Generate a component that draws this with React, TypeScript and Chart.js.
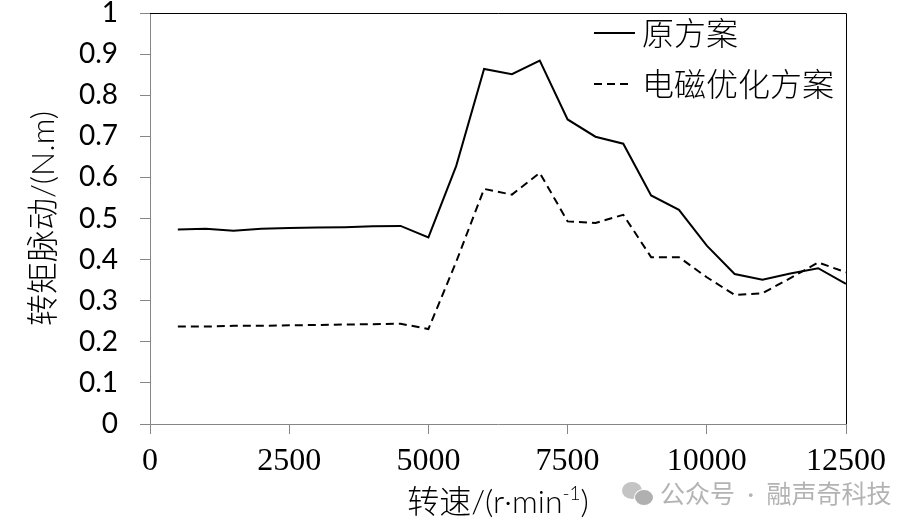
import { useEffect, useRef } from 'react';
import { Chart, registerables } from 'chart.js';

Chart.register(...registerables);

// speed (r/min) and torque ripple (N.m)
const speeds = [
  500, 1000, 1500, 2000, 2500, 3000, 3500, 4000, 4500, 5000, 5500, 6000, 6500,
  7000, 7500, 8000, 8500, 9000, 9500, 10000, 10500, 11000, 11500, 12000, 12500,
];
const originalRipple = [
  0.473, 0.475, 0.47, 0.475, 0.477, 0.478, 0.479, 0.481, 0.482, 0.454, 0.628, 0.864, 0.851,
  0.884, 0.741, 0.699, 0.682, 0.556, 0.521, 0.434, 0.365, 0.351, 0.366, 0.379, 0.341,
];
const optimizedRipple = [
  0.237, 0.237, 0.239, 0.239, 0.24, 0.241, 0.242, 0.243, 0.244, 0.231, 0.395, 0.572, 0.558,
  0.611, 0.493, 0.489, 0.509, 0.406, 0.406, 0.357, 0.314, 0.318, 0.355, 0.393, 0.369,
];
const seriesNames = ['原方案', '电磁优化方案'];
const xTickValues = [0, 2500, 5000, 7500, 10000, 12500];
const yTickValues = [0, 0.1, 0.2, 0.3, 0.4, 0.5, 0.6, 0.7, 0.8, 0.9, 1];
const yTitle = '转矩脉动/(N.m)';
const xTitleParts = ['转速/(r·min', '-1', ')'];
const watermark = '公众号 · 融声奇科技';

const CJK = 'Lato, "Noto Sans CJK SC", sans-serif';
const GREY = '#868686';

const framePlugin = {
  id: 'frameLegend',
  afterDraw(chart: Chart) {
    const { ctx, chartArea: a } = chart;
    ctx.save();
    // top and right frame
    ctx.strokeStyle = '#000';
    ctx.lineWidth = 1;
    ctx.beginPath();
    ctx.moveTo(a.left, a.top + 0.5);
    ctx.lineTo(a.right + 0.5, a.top + 0.5);
    ctx.lineTo(a.right + 0.5, a.bottom);
    ctx.stroke();

    // legend inside the plot
    const rows = [a.top + 20, a.top + 71];
    chart.data.datasets.forEach((ds: any, i: number) => {
      const y = rows[i];
      ctx.strokeStyle = '#000';
      ctx.lineWidth = 2;
      ctx.setLineDash(ds.borderDash || []);
      ctx.beginPath();
      ctx.moveTo(a.right - 252, y);
      ctx.lineTo(a.right - (ds.borderDash ? 214 : 211), y);
      ctx.stroke();
      ctx.setLineDash([]);
      ctx.fillStyle = '#000';
      ctx.font = `300 32px ${CJK}`;
      ctx.textBaseline = 'middle';
      ctx.textAlign = 'left';
      ctx.fillText(ds.label, a.right - 204, y + 2);
    });

    // x axis title with superscript
    const big = `300 32px ${CJK}`;
    const small = `300 19px ${CJK}`;
    ctx.font = big;
    const w0 = ctx.measureText(xTitleParts[0]).width;
    const w2 = ctx.measureText(xTitleParts[2]).width;
    ctx.font = small;
    const w1 = ctx.measureText(xTitleParts[1]).width;
    let x = (a.left + a.right) / 2 - (w0 + w1 + w2) / 2;
    const y = 503;
    ctx.textBaseline = 'middle';
    ctx.font = big;
    ctx.fillText(xTitleParts[0], x, y);
    x += w0;
    ctx.font = small;
    ctx.fillText(xTitleParts[1], x, y - 9);
    x += w1;
    ctx.font = big;
    ctx.fillText(xTitleParts[2], x, y);
    ctx.restore();
  },
};

export default function App() {
  const canvasRef = useRef<HTMLCanvasElement | null>(null);

  useEffect(() => {
    if (!canvasRef.current) return;

    const chart = new Chart(canvasRef.current, {
      type: 'line',
      data: {
        datasets: [
          {
            label: seriesNames[0],
            data: speeds.map((s, i) => ({ x: s, y: originalRipple[i] })),
            borderColor: '#000',
            borderWidth: 2,
            pointRadius: 0,
            tension: 0,
          },
          {
            label: seriesNames[1],
            data: speeds.map((s, i) => ({ x: s, y: optimizedRipple[i] })),
            borderColor: '#000',
            borderWidth: 2,
            borderDash: [8, 5],
            pointRadius: 0,
            tension: 0,
          },
        ],
      },
      options: {
        responsive: false,
        animation: false,
        layout: { padding: { top: 13, right: 66, bottom: 0, left: 0 } },
        plugins: { legend: { display: false }, tooltip: { enabled: false } },
        scales: {
          x: {
            type: 'linear',
            min: 0,
            max: 12500,
            afterBuildTicks: (scale: any) => {
              scale.ticks = xTickValues.map((v) => ({ value: v }));
            },
            afterFit: (scale: any) => {
              scale.height = 106;
              scale.paddingLeft = 0;
              scale.paddingRight = 0;
            },
            ticks: {
              color: '#000',
              maxRotation: 0,
              padding: 12,
              font: { family: '"Liberation Serif", serif', size: 32, lineHeight: 1 },
              callback: (v: any) => String(v),
            },
            grid: { drawOnChartArea: false, tickLength: 10, color: GREY },
            border: { color: GREY, width: 1 },
          },
          y: {
            min: 0,
            max: 1,
            afterBuildTicks: (scale: any) => {
              scale.ticks = yTickValues.map((v) => ({ value: v }));
            },
            afterFit: (scale: any) => {
              scale.width = 150;
              scale.paddingTop = 0;
              scale.paddingBottom = 0;
            },
            ticks: {
              color: '#000',
              padding: 22,
              font: { family: 'Lato, sans-serif', size: 28, lineHeight: 1 },
              callback: (v: any) => String(Math.round(v * 10) / 10),
            },
            grid: { drawOnChartArea: false, tickLength: 10, color: GREY },
            border: { color: GREY, width: 1 },
            title: {
              display: true,
              text: yTitle,
              color: '#000',
              font: { family: CJK, size: 32, weight: 300 as any, lineHeight: 1 },
              padding: { top: 28, bottom: 0 },
            },
          },
        },
      },
      plugins: [framePlugin],
    });

    return () => chart.destroy();
  }, []);

  return (
    <div style={{ position: 'absolute', left: 0, top: 0, width: 912, height: 530, background: '#fff' }}>
      <canvas ref={canvasRef} width={912} height={530} />
      <div
        style={{
          position: 'absolute',
          left: 620,
          top: 478,
          display: 'flex',
          alignItems: 'center',
          color: '#b3b3b3',
          fontFamily: CJK,
          fontSize: 25,
          lineHeight: '30px',
          whiteSpace: 'nowrap',
        }}
      >
        <span style={{ position: 'relative', width: 36, height: 26, marginRight: 4 }}>
          <span style={{ position: 'absolute', left: 2, top: 2, width: 20, height: 17, borderRadius: '50%', background: '#c4c4c4' }} />
          <span style={{ position: 'absolute', left: 14, top: 9, width: 18, height: 15, borderRadius: '50%', background: '#b0b0b0', border: '1px solid #fff' }} />
        </span>
        {watermark.replace(' · ', '\u2002·\u2002')}
      </div>
    </div>
  );
}
